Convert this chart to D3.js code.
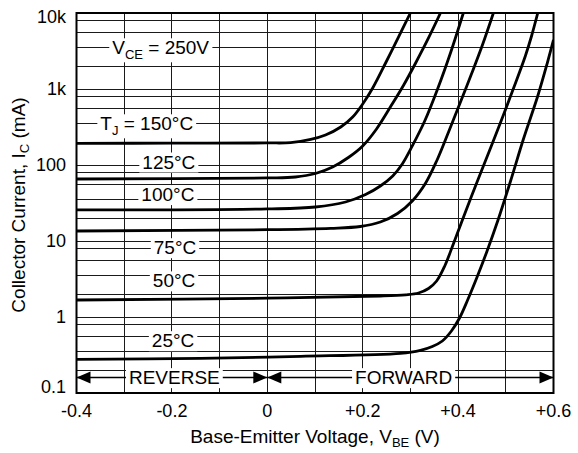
<!DOCTYPE html>
<html><head><meta charset="utf-8">
<script src="https://cdn.jsdelivr.net/npm/d3@7"></script>
<style>
body{margin:0;background:#fff}
svg{display:block}
text{font-family:"Liberation Sans",Arial,Helvetica,sans-serif;fill:#000}
</style>
</head><body>
<svg id="chart" width="578" height="453"></svg>
<script>
// ---------- data ----------
const xTickValues = [-0.4, -0.2, 0, 0.2, 0.4, 0.6];
const xTickLabels = ["-0.4", "-0.2", "0", "+0.2", "+0.4", "+0.6"];
const xGridValues = [-0.4, -0.3, -0.2, -0.1, 0, 0.1, 0.2, 0.3, 0.4, 0.5, 0.6];
const yTickValues = [0.1, 1, 10, 100, 1000, 10000];
const yTickLabels = ["0.1", "1", "10", "100", "1k", "10k"];
const yMinorFactors = [2, 3.5, 5.5, 8];

const t150V = [-0.40, -0.20, 0.00, 0.049, 0.091, 0.122, 0.154, 0.179, 0.200, 0.221, 0.248, 0.275, 0.300];
const t150I = [193, 193.5, 195, 197, 217, 248, 316, 428, 635, 1031, 2198, 4832, 10000];
const t125V = [-0.40, 0.00, 0.059, 0.101, 0.137, 0.170, 0.200, 0.229, 0.258, 0.286, 0.311, 0.338, 0.363];
const t125I = [65.4, 67.5, 69.5, 77.3, 94.1, 125.5, 178, 298, 579, 1129, 2198, 4690, 10000];
const t100V = [-0.40, 0.00, 0.101, 0.164, 0.206, 0.237, 0.263, 0.283, 0.304, 0.330, 0.357, 0.384, 0.411];
const t100I = [25.6, 26.4, 28.0, 32.6, 40.9, 52.9, 71.7, 103, 178, 379, 1000, 2978, 10000];
const t75V  = [-0.40, 0.00, 0.133, 0.195, 0.237, 0.273, 0.304, 0.332, 0.355, 0.380, 0.405, 0.428, 0.451, 0.474];
const t75I  = [13.54, 14.08, 14.69, 15.52, 17.78, 23.0, 33.6, 58.0, 113, 272, 675, 1574, 3793, 10000];
const t50V  = [-0.40, 0.00, 0.237, 0.290, 0.317, 0.338, 0.355, 0.372, 0.390, 0.411, 0.441, 0.468, 0.495, 0.518, 0.541, 0.554, 0.567];
const t50I  = [1.674, 1.768, 1.889, 1.960, 2.069, 2.371, 2.976, 4.69, 9.13, 20.4, 62.5, 167, 455, 1095, 2717, 4980, 10000];
const t25V  = [-0.40, -0.14, 0.070, 0.279, 0.321, 0.346, 0.367, 0.386, 0.403, 0.420, 0.439, 0.460, 0.483, 0.510, 0.537, 0.567, 0.587, 0.600];
const t25I  = [0.2775, 0.2862, 0.304, 0.333, 0.3645, 0.409, 0.483, 0.654, 0.970, 1.674, 3.26, 7.17, 18.3, 61.6, 220, 809, 2198, 4416];

const seriesV = [t150V, t125V, t100V, t75V, t50V, t25V];
const seriesI = [t150I, t125I, t100I, t75I, t50I, t25I];

// annotation labels: [main, subscript, rest], position (V at left edge, I at vertical centre)
const labelMain = ["V", "T", "", "", "", "", ""];
const labelSub  = ["CE", "J", "", "", "", "", ""];
const labelRest = [" = 250V", " = 150°C", "125°C", "100°C", "75°C", "50°C", "25°C"];
const labelV    = [-0.325, -0.350, -0.262, -0.264, -0.238, -0.240, -0.242];
const labelI    = [3500, 350, 110, 41, 8.2, 3.0, 0.49];

const dirText = ["REVERSE", "FORWARD"];
const dirTextV = [-0.290, 0.184];
const dirFrom = [-0.4, 0];
const dirTo = [0, 0.6];
const dirLevel = 0.16;

// ---------- chart ----------
const svg = d3.select("#chart");
const x = d3.scaleLinear().domain([-0.4, 0.6]).range([76.5, 553.5]);
const y = d3.scaleLog().domain([0.1, 10000]).range([393, 13]);

// grid
const gGrid = svg.append("g").attr("stroke", "#1a1a1a").attr("stroke-width", 1).attr("shape-rendering", "crispEdges");
gGrid.selectAll("line.v").data(xGridValues).join("line").attr("class", "v")
  .attr("x1", d => x(d)).attr("x2", d => x(d)).attr("y1", y(10000)).attr("y2", y(0.1));
const yGridValues = [];
yTickValues.forEach(t => { yGridValues.push(t); if (t < 10000) yMinorFactors.forEach(f => yGridValues.push(t * f)); });
gGrid.selectAll("line.h").data(yGridValues).join("line").attr("class", "h")
  .attr("x1", x(-0.4)).attr("x2", x(0.6)).attr("y1", d => y(d)).attr("y2", d => y(d));

// clip
svg.append("clipPath").attr("id", "plot").append("rect")
  .attr("x", x(-0.4)).attr("y", y(10000)).attr("width", x(0.6) - x(-0.4)).attr("height", y(0.1) - y(10000));

// curves
const line = d3.line().x(d => x(d[0])).y(d => y(d[1])).curve(d3.curveCatmullRom.alpha(0.5));
svg.append("g").attr("clip-path", "url(#plot)")
  .selectAll("path").data(seriesV.map((vs, k) => vs.map((v, j) => [v, seriesI[k][j]])))
  .join("path").attr("d", line).attr("fill", "none").attr("stroke", "#000").attr("stroke-width", 2.8)
  .attr("stroke-linejoin", "round");

// direction arrows
const gDir = svg.append("g");
dirText.forEach((t, k) => {
  const y0 = y(dirLevel), xa = x(dirFrom[k]), xb = x(dirTo[k]);
  gDir.append("line").attr("x1", xa).attr("x2", xb).attr("y1", y0).attr("y2", y0)
    .attr("stroke", "#000").attr("stroke-width", 1.4);
  gDir.append("path").attr("d", `M${xa},${y0}L${xa + 14},${y0 - 6}L${xa + 14},${y0 + 6}Z`).attr("fill", "#000");
  gDir.append("path").attr("d", `M${xb},${y0}L${xb - 14},${y0 - 6}L${xb - 14},${y0 + 6}Z`).attr("fill", "#000");
});

// label helper with white box
function boxedText(g, xv, yc, main, sub, rest) {
  const grp = g.append("g");
  const t = grp.append("text").attr("x", xv).attr("y", yc).attr("dy", "0.35em").attr("font-size", 19);
  if (main) t.append("tspan").text(main);
  if (sub) t.append("tspan").attr("font-size", 13).attr("dy", 5).text(sub);
  const r = t.append("tspan").text(rest);
  if (sub) r.attr("dy", -5);
  const b = t.node().getBBox();
  grp.insert("rect", "text").attr("x", b.x - 3).attr("y", b.y + 1).attr("width", b.width + 6).attr("height", b.height - 1)
    .attr("fill", "#fff");
}
const gLab = svg.append("g");
labelRest.forEach((r, k) => boxedText(gLab, x(labelV[k]), y(labelI[k]), labelMain[k], labelSub[k], r));
dirText.forEach((t, k) => boxedText(gLab, x(dirTextV[k]), y(dirLevel), "", "", t));

// frame
svg.append("rect").attr("x", x(-0.4)).attr("y", y(10000)).attr("width", x(0.6) - x(-0.4)).attr("height", y(0.1) - y(10000))
  .attr("fill", "none").attr("stroke", "#000").attr("stroke-width", 2);

// axes labels
svg.append("g").selectAll("text").data(xTickValues).join("text")
  .attr("x", d => x(d)).attr("y", 417).attr("text-anchor", "middle").attr("font-size", 18)
  .text((d, i) => xTickLabels[i]);
svg.append("g").selectAll("text").data(yTickValues).join("text")
  .attr("x", 66).attr("y", (d, i) => y(d) + (i === 0 ? -6 : i === yTickValues.length - 1 ? 4 : 0))
  .attr("dy", "0.35em").attr("text-anchor", "end").attr("font-size", 18)
  .text((d, i) => yTickLabels[i]);

// titles
const xt = svg.append("text").attr("x", (x(-0.4) + x(0.6)) / 2).attr("y", 443).attr("text-anchor", "middle").attr("font-size", 19);
xt.append("tspan").text("Base-Emitter Voltage, V");
xt.append("tspan").attr("font-size", 13).attr("dy", 4).text("BE");
xt.append("tspan").attr("dy", -4).text(" (V)");

const yt = svg.append("text").attr("transform", `translate(25,${(y(0.1) + y(10000)) / 2 + 2}) rotate(-90)`)
  .attr("text-anchor", "middle").attr("font-size", 19);
yt.append("tspan").text("Collector Current, I");
yt.append("tspan").attr("font-size", 13).attr("dy", 4).text("C");
yt.append("tspan").attr("dy", -4).text(" (mA)");
</script>
</body></html>
